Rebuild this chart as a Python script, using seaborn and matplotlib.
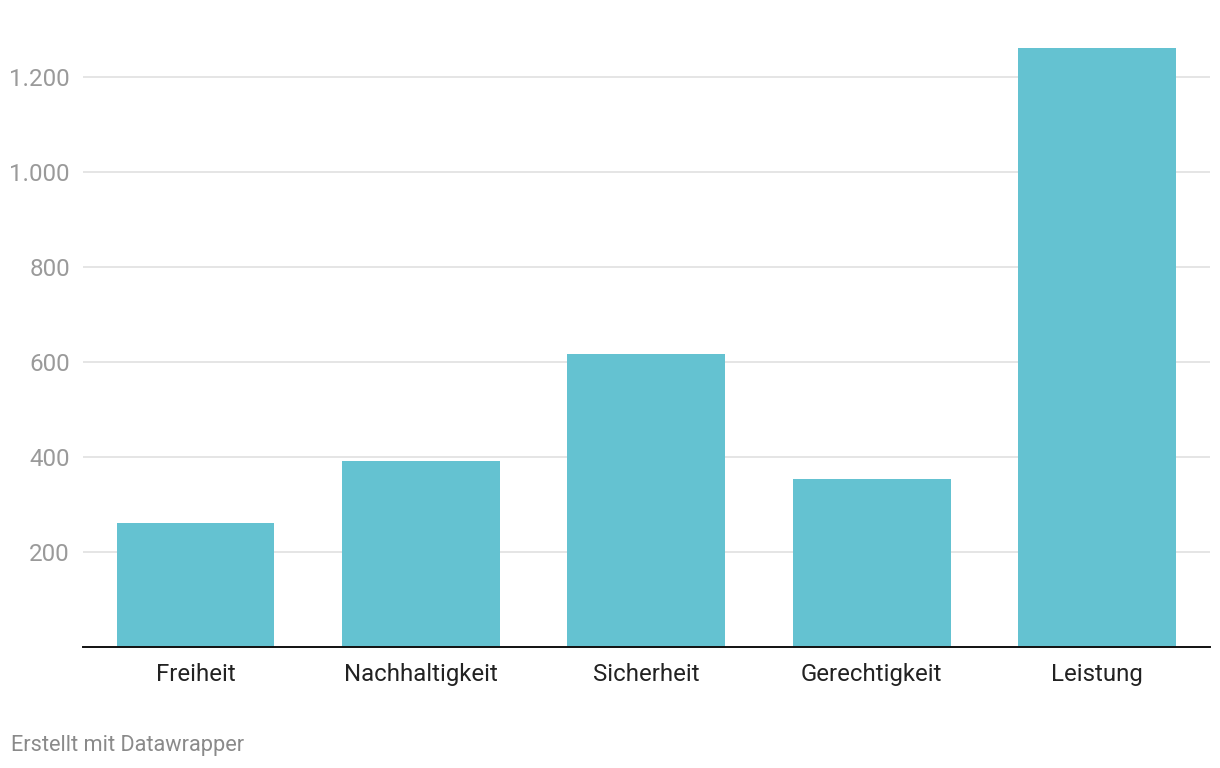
import matplotlib
matplotlib.use("Agg")
import matplotlib.pyplot as plt
import seaborn as sns
import pandas as pd

categories = ["Freiheit", "Nachhaltigkeit", "Sicherheit", "Gerechtigkeit", "Leistung"]
values = [260, 391, 616, 353, 1260]
yticks = [200, 400, 600, 800, 1000, 1200]
ytick_labels = ["200", "400", "600", "800", "1.000", "1.200"]

sns.set_theme(style="white")
plt.rcParams['font.family'] = ['Roboto', 'DejaVu Sans']

df = pd.DataFrame({"cat": categories, "val": values})

fig = plt.figure(figsize=(12.2, 7.68), dpi=100)
W, H = 1220, 768
left, right = 82.75, 1210
y0, ytop = 646.7, 29.2
ax = fig.add_axes([left / W, (H - y0) / H, (right - left) / W, (y0 - ytop) / H])

sns.barplot(data=df, x="cat", y="val", color="#64c2d1", saturation=1, width=0.70,
            linewidth=0, ax=ax, zorder=3)

ax.set_xlim(-0.5, 4.5)
ax.set_ylim(0, 1300)
ax.set_yticks(yticks)
ax.set_yticklabels(ytick_labels)
ax.grid(axis="y", color="#e3e3e3", linewidth=1.3, zorder=0)
ax.set_axisbelow(True)
for s in ["top", "right", "left"]:
    ax.spines[s].set_visible(False)
ax.spines["bottom"].set_color("#111111")
ax.spines["bottom"].set_linewidth(1.4)
ax.spines["bottom"].set_zorder(5)
ax.set_xlabel("")
ax.set_ylabel("")
ax.tick_params(axis="y", length=0, pad=9.2, labelsize=17.4, labelcolor="#9a9a9a")
ax.tick_params(axis="x", length=0, pad=11.5, labelsize=17.3, labelcolor="#222222")

fig.text(11 / W, 1 - 745 / H, "Erstellt mit Datawrapper", fontsize=15.7, color="#8a8a8a",
         ha="left", va="center")

fig.savefig("out.png", dpi=100, facecolor="white")
